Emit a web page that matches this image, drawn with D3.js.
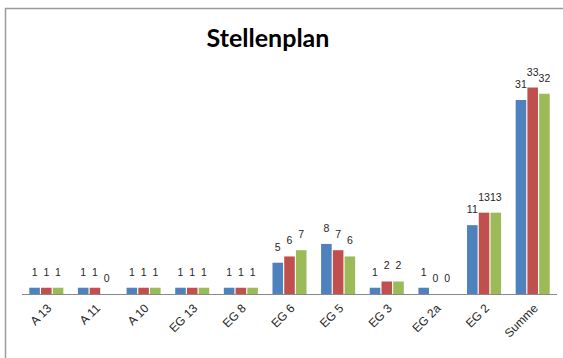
<!DOCTYPE html>
<html>
<head>
<meta charset="utf-8">
<script src="https://cdn.jsdelivr.net/npm/d3@7"></script>
<style>
  body { margin: 0; background: #fff; }
  svg { display: block; }
</style>
</head>
<body>
<div id="chart"></div>
<script>
const categories = ['A 13', 'A 11', 'A 10', 'EG 13', 'EG 8', 'EG 6', 'EG 5', 'EG 3', 'EG 2a', 'EG 2', 'Summe']
const series1 = [1, 1, 1, 1, 1, 5, 8, 1, 1, 11, 31]
const series2 = [1, 1, 1, 1, 1, 6, 7, 2, 0, 13, 33]
const series3 = [1, 0, 1, 1, 1, 7, 6, 2, 0, 13, 32]
const colors = ['#4f81bd', '#c0504d', '#9bbb59']

const width = 563, height = 358

const svg = d3.select('#chart').append('svg')
	.attr('width', width)
	.attr('height', height)

// chart frame (runs off the right and bottom edge)
svg.append('rect')
	.attr('x', 5.5).attr('y', 8.5)
	.attr('width', 600).attr('height', 400)
	.attr('fill', 'none')
	.attr('stroke', '#9a9a9a')
	.attr('stroke-width', 1.5)

svg.append('text')
	.attr('x', 268).attr('y', 47)
	.attr('text-anchor', 'middle')
	.attr('font-family', 'Lato, "Liberation Sans", sans-serif')
	.attr('font-weight', 'bold')
	.attr('font-size', 25)
	.attr('fill', '#000')
	.text('Stellenplan')

const x = d3.scaleBand()
	.domain(categories)
	.range([22, 557])
	.paddingInner(0.3)
	.paddingOuter(0.15)

const xs = d3.scaleBand()
	.domain([0, 1, 2])
	.range([0, x.bandwidth()])
	.paddingInner(0.1)

const y = d3.scaleLinear()
	.domain([0, 35])
	.range([294, 75])

const rows = categories.map((c, i) => ({
	cat: c,
	vals: [series1[i], series2[i], series3[i]]
}))

const groups = svg.selectAll('g.cat')
	.data(rows)
	.enter()
	.append('g')
	.attr('class', 'cat')
	.attr('transform', d => `translate(${x(d.cat)},0)`)

groups.selectAll('rect')
	.data(d => d.vals)
	.enter()
	.append('rect')
	.attr('x', (d, i) => xs(i))
	.attr('y', d => y(d))
	.attr('width', xs.bandwidth())
	.attr('height', d => y(0) - y(d))
	.attr('fill', (d, i) => colors[i])

// data labels
groups.selectAll('text')
	.data(d => d.vals)
	.enter()
	.append('text')
	.attr('x', (d, i) => xs(i) + xs.bandwidth() / 2)
	.attr('y', d => y(d) - 12)
	.attr('text-anchor', 'middle')
	.attr('font-family', '"Liberation Sans", Arial, sans-serif')
	.attr('font-size', 10.5)
	.attr('fill', '#262626')
	.text(d => d)

// x axis
const xAxis = svg.append('g')
	.attr('transform', 'translate(0,294)')
	.call(d3.axisBottom(x).tickSize(0).tickPadding(0))

xAxis.select('.domain')
	.attr('d', 'M22,0.5H557')
	.attr('stroke', '#8a8a8a')

xAxis.selectAll('.tick text')
	.attr('font-family', '"Liberation Sans", Arial, sans-serif')
	.attr('font-size', 12)
	.attr('fill', '#262626')
	.attr('text-anchor', 'end')
	.attr('dy', '0.35em')
	.attr('transform', 'translate(3,12) rotate(-45)')
	.attr('y', 0)
</script>
</body>
</html>
